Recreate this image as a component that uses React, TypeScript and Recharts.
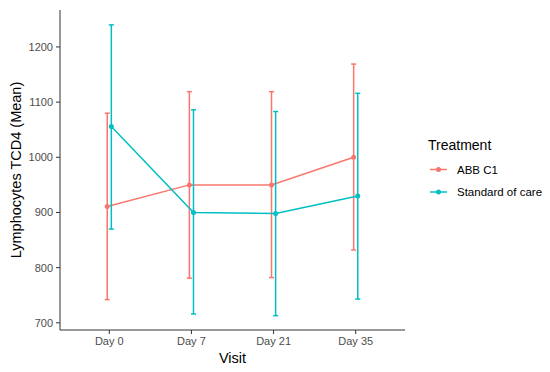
import { LineChart, Line, XAxis, YAxis, ErrorBar, Legend } from 'recharts';

const visits = ['Day 0', 'Day 7', 'Day 21', 'Day 35'];

const abbMean = [911, 950, 950, 1000];
const abbLow = [742, 781, 782, 832];
const abbHigh = [1080, 1119, 1119, 1169];

const socMean = [1056, 900, 898, 930];
const socLow = [870, 716, 713, 743];
const socHigh = [1240, 1086, 1083, 1116];

const yTicks = [700, 800, 900, 1000, 1100, 1200];

const RED = '#F8766D';
const TEAL = '#00BFC4';
const FONT = '"Liberation Sans", Arial, sans-serif';
const DODGE = 0.025;

const build = (mean: number[], low: number[], high: number[], shift: number) =>
  mean.map((m, i) => ({
    x: i + shift,
    y: m,
    err: [m - low[i], high[i] - m],
  }));

const abbData = build(abbMean, abbLow, abbHigh, -DODGE);
const socData = build(socMean, socLow, socHigh, DODGE);

const series = [
  { name: 'ABB C1', color: RED },
  { name: 'Standard of care', color: TEAL },
];

function LegendBox() {
  return (
    <svg width={130} height={80} style={{ fontFamily: FONT }}>
      <text x={8} y={20} fontSize={14} fill="#000">
        Treatment
      </text>
      {series.map((s, i) => {
        const cy = 39.5 + i * 22.5;
        return (
          <g key={s.name}>
            <line x1={10} x2={27} y1={cy} y2={cy} stroke={s.color} strokeWidth={1.5} />
            <circle cx={18.5} cy={cy} r={2.5} fill={s.color} />
            <text x={37} y={cy + 4} fontSize={11.5} fill="#000">
              {s.name}
            </text>
          </g>
        );
      })}
    </svg>
  );
}

export default function App() {
  return (
    <div style={{ position: 'absolute', left: 0, top: 0, background: '#fff' }}>
      <LineChart
        width={550}
        height={372}
        margin={{ top: 10, right: 145, bottom: 0, left: 0 }}
        style={{ fontFamily: FONT }}
      >
        <XAxis
          dataKey="x"
          type="number"
          domain={[-0.6, 3.6]}
          ticks={[0, 1, 2, 3]}
          tickFormatter={(v: number) => visits[v]}
          allowDuplicatedCategory={false}
          height={42}
          stroke="#333"
          tickSize={4}
          tickMargin={3}
          tick={{ fill: '#4D4D4D', fontSize: 11 }}
          label={{ value: 'Visit', position: 'insideBottom', offset: 9, fontSize: 14.5, fill: '#000' }}
        />
        <YAxis
          type="number"
          domain={[687, 1267]}
          ticks={yTicks}
          width={60}
          stroke="#333"
          tickSize={4}
          tickMargin={3}
          tick={{ fill: '#4D4D4D', fontSize: 11 }}
          label={{
            value: 'Lymphocytes TCD4 (Mean)',
            angle: -90,
            position: 'insideLeft',
            offset: 16,
            fontSize: 14.5,
            fill: '#000',
            style: { textAnchor: 'middle' },
          }}
        />
        <Legend
          layout="horizontal"
          verticalAlign="middle"
          align="center"
          wrapperStyle={{ left: 420, top: 130, width: 130, height: 80 }}
          content={() => <LegendBox />}
        />
        <Line
          data={abbData}
          dataKey="y"
          name="ABB C1"
          stroke={RED}
          strokeWidth={1.5}
          dot={{ r: 2.5, fill: RED, stroke: 'none' }}
          isAnimationActive={false}
        >
          <ErrorBar dataKey="err" direction="y" width={2.5} stroke={RED} strokeWidth={1.5} />
        </Line>
        <Line
          data={socData}
          dataKey="y"
          name="Standard of care"
          stroke={TEAL}
          strokeWidth={1.5}
          dot={{ r: 2.5, fill: TEAL, stroke: 'none' }}
          isAnimationActive={false}
        >
          <ErrorBar dataKey="err" direction="y" width={2.5} stroke={TEAL} strokeWidth={1.5} />
        </Line>
      </LineChart>
    </div>
  );
}
